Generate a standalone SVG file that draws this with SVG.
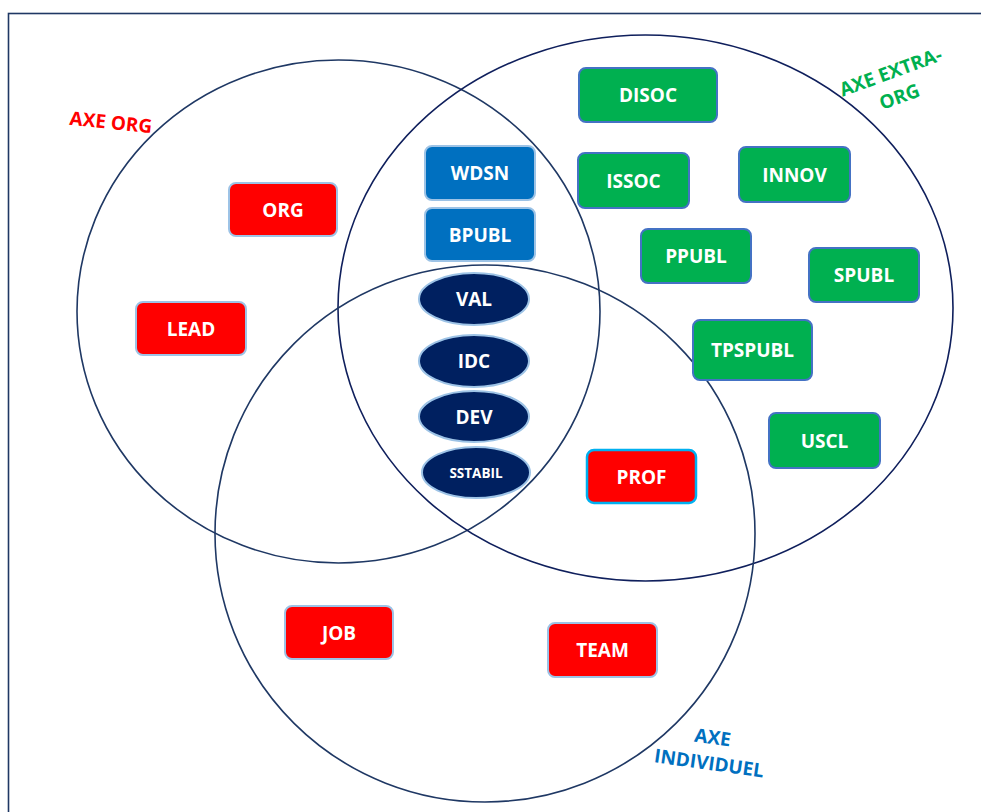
<svg xmlns="http://www.w3.org/2000/svg" width="981" height="812" viewBox="0 0 981 812">
<style>
  .ring{fill:none;stroke:#1F3864;stroke-width:1.6}
  .box text,.lbl{font-family:"Open Sans","Liberation Sans",sans-serif;font-weight:bold}
  .box text{fill:#FFFFFF;font-size:19px;text-anchor:middle;dominant-baseline:central}
  .red rect{fill:#FF0000;stroke:#9DC3E6;stroke-width:2}
  .prof rect{fill:#FF0000;stroke:#00B0F0;stroke-width:2.5}
  .green rect{fill:#00B050;stroke:#4472C4;stroke-width:2}
  .blue rect{fill:#0070C0;stroke:#9DC3E6;stroke-width:2}
  .navy ellipse{fill:#002060;stroke:#9DC3E6;stroke-width:2}
  .lbl{font-size:19px;text-anchor:middle}
</style>
<rect x="0" y="0" width="981" height="812" fill="#FFFFFF"/>
<rect id="frame" x="8.5" y="13.5" width="1000" height="820" fill="none" stroke="#1F3864" stroke-width="1.6"/>

<g id="circles">
  <ellipse id="axe-org-circle" class="ring" cx="338.5" cy="311.5" rx="261.5" ry="251.5"/>
  <ellipse id="axe-extra-circle" class="ring" cx="645.5" cy="308" rx="307.5" ry="273" stroke-width="2.2" style="stroke:#0F1F5C"/>
  <ellipse id="axe-indiv-circle" class="ring" cx="485" cy="533.5" rx="270" ry="268.5"/>
</g>

<g id="connectors"></g>

<g id="labels">
  <text id="lbl-org" class="lbl" fill="#FF0000" transform="translate(111,122) rotate(6)" dominant-baseline="central">AXE ORG</text>
  <g id="lbl-extra" fill="#00B050" transform="rotate(-20 895 84)">
    <text class="lbl" x="895" y="71" dominant-baseline="central">AXE EXTRA-</text>
    <text class="lbl" x="895" y="97" dominant-baseline="central">ORG</text>
  </g>
  <g id="lbl-indiv" fill="#0070C0" transform="rotate(8 711 750)">
    <text class="lbl" x="711" y="737" dominant-baseline="central">AXE</text>
    <text class="lbl" x="711" y="763" dominant-baseline="central">INDIVIDUEL</text>
  </g>
</g>

<g id="ORG" class="box red"><rect x="229" y="183" width="108" height="53" rx="7"/><text x="283" y="210">ORG</text></g>
<g id="LEAD" class="box red"><rect x="136" y="302" width="110" height="53" rx="7"/><text x="191" y="329">LEAD</text></g>
<g id="JOB" class="box red"><rect x="285" y="606" width="108" height="53" rx="7"/><text x="339" y="633">JOB</text></g>
<g id="TEAM" class="box red"><rect x="548" y="623" width="109" height="54" rx="7"/><text x="602.5" y="650">TEAM</text></g>
<g id="PROF" class="box prof"><rect x="587" y="450" width="109" height="53" rx="7"/><text x="641.5" y="477">PROF</text></g>

<g id="WDSN" class="box blue"><rect x="425" y="146" width="110" height="54" rx="7"/><text x="480" y="173">WDSN</text></g>
<g id="BPUBL" class="box blue"><rect x="425" y="208" width="110" height="53" rx="7"/><text x="480" y="235">BPUBL</text></g>

<g id="VAL" class="box navy"><ellipse cx="474" cy="299" rx="55" ry="26"/><text x="474" y="299">VAL</text></g>
<g id="IDC" class="box navy"><ellipse cx="474" cy="361" rx="55" ry="26"/><text x="474" y="361">IDC</text></g>
<g id="DEV" class="box navy"><ellipse cx="474" cy="416.5" rx="55" ry="25.5"/><text x="474" y="416.5">DEV</text></g>
<g id="SSTABIL" class="box navy"><ellipse cx="476" cy="472.5" rx="54" ry="25.5"/><text x="476" y="472.5" style="font-size:13.5px">SSTABIL</text></g>

<g id="DISOC" class="box green"><rect x="579" y="68" width="138" height="54" rx="7"/><text x="648" y="95">DISOC</text></g>
<g id="ISSOC" class="box green"><rect x="578" y="153" width="111" height="55" rx="7"/><text x="633.5" y="180.5">ISSOC</text></g>
<g id="INNOV" class="box green"><rect x="739" y="147" width="111" height="55" rx="7"/><text x="794.5" y="174.5">INNOV</text></g>
<g id="PPUBL" class="box green"><rect x="641" y="229" width="110" height="54" rx="7"/><text x="696" y="256">PPUBL</text></g>
<g id="SPUBL" class="box green"><rect x="809" y="248" width="110" height="54" rx="7"/><text x="864" y="275">SPUBL</text></g>
<g id="TPSPUBL" class="box green"><rect x="693" y="320" width="119" height="60" rx="7"/><text x="752.5" y="350">TPSPUBL</text></g>
<g id="USCL" class="box green"><rect x="769" y="413" width="111" height="55" rx="7"/><text x="824.5" y="440.5">USCL</text></g>
</svg>
